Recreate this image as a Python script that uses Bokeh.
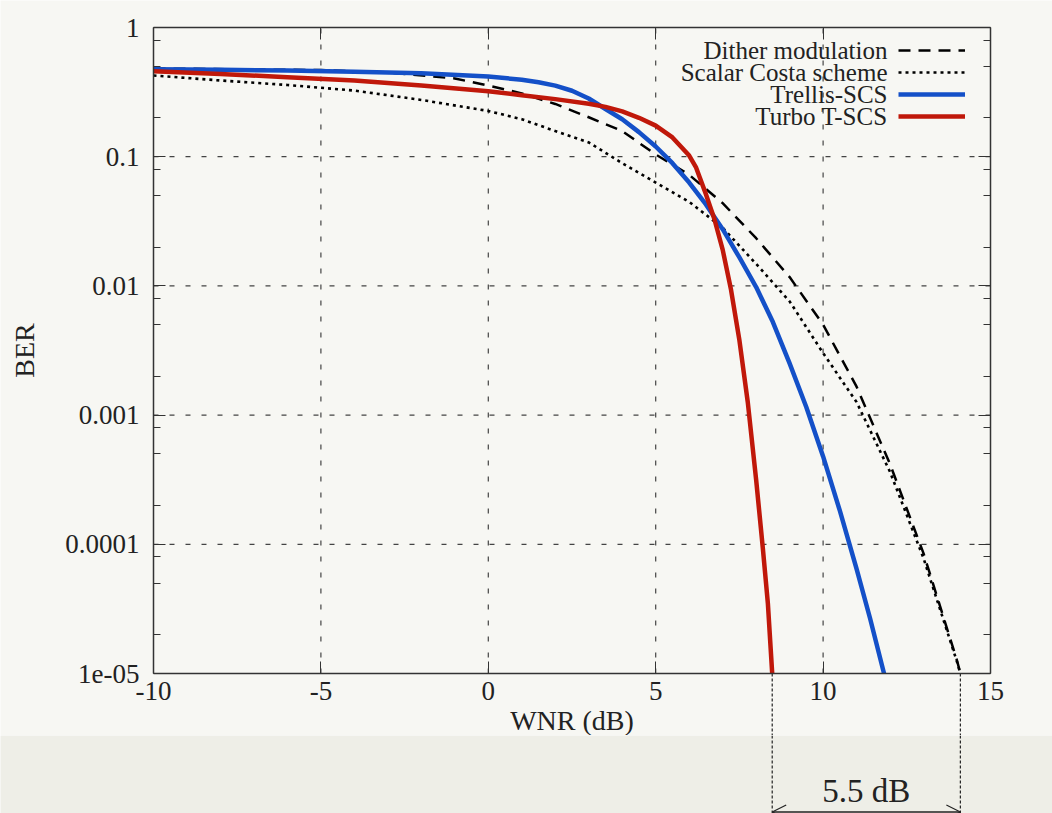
import math
from bokeh.plotting import figure
from bokeh.layouts import column
from bokeh.models import (Range1d, FixedTicker, LogAxis, LinearAxis, CustomJSTickFormatter,
                          Legend, LegendItem, Label, Arrow, OpenHead)
from bokeh.embed import file_html
from bokeh.resources import INLINE

# ---------------- data ----------------
x_ticks = [-10, -5, 0, 5, 10, 15]
y_ticks = [1e-5, 1e-4, 1e-3, 1e-2, 1e-1, 1]
y_tick_labels = ["1", "0.1", "0.01", "0.001", "0.0001", "1e-05"]
y_minor = [m * 10.0 ** e for e in range(-5, 0) for m in (2, 5, 8)]

dither_wnr = [-10, -7, -5, -3, -1, 0, 1, 2, 3, 4, 5, 6, 7, 8, 9, 10, 11, 12, 13, 14, 14.1]
dither_ber = [0.482, 0.473, 0.468, 0.449, 0.403, 0.356, 0.309, 0.256, 0.202, 0.158, 0.104,
              0.0724, 0.0437, 0.0234, 0.0117, 0.00501, 0.00166, 0.000417, 8.5e-5, 1.26e-5, 1.0e-5]

scs_wnr = [-10, -8, -6, -4, -2, 0, 1, 2, 3, 4, 5, 6, 7, 8, 9, 10, 11, 12, 13, 14, 14.1]
scs_ber = [0.425, 0.389, 0.359, 0.325, 0.275, 0.226, 0.195, 0.158, 0.129, 0.0891, 0.0631,
           0.0447, 0.0282, 0.0148, 0.00759, 0.00302, 0.00126, 0.000363, 7.8e-5, 1.23e-5, 1.0e-5]

trellis_wnr = [-10, -8, -6, -4, -2, 0, 1, 1.5, 2, 2.5, 3, 3.5, 4, 4.5, 5, 5.5, 6, 6.5, 7, 7.5,
               8, 8.5, 9, 9.5, 10, 10.5, 11, 11.4, 11.82]
trellis_ber = [0.476, 0.470, 0.465, 0.455, 0.442, 0.418, 0.394, 0.377, 0.355, 0.324, 0.282,
               0.234, 0.195, 0.155, 0.120, 0.0891, 0.0631, 0.0427, 0.0275, 0.0166,
               0.0098, 0.00525, 0.00251, 0.00115, 0.000479, 0.000182, 6.46e-5, 2.69e-5, 1.0e-5]

turbo_wnr = [-10, -8, -6, -4, -2, 0, 1, 2, 3, 3.5, 4, 4.5, 5, 5.5, 6, 6.2, 6.5, 6.75, 7, 7.25,
             7.5, 7.75, 8, 8.2, 8.35, 8.48]
turbo_ber = [0.459, 0.437, 0.412, 0.389, 0.355, 0.321, 0.299, 0.279, 0.257, 0.243, 0.224, 0.200,
             0.174, 0.141, 0.102, 0.0832, 0.0513, 0.0331, 0.0191, 0.00933, 0.00380, 0.00126,
             0.000316, 9.33e-5, 3.5e-5, 1.0e-5]

series_names = ["Dither modulation", "Scalar Costa scheme", "Trellis-SCS", "Turbo T-SCS"]
x_title = "WNR (dB)"
y_title = "BER"
gain_text = "5.5 dB"

# ---------------- styling / layout ----------------
FONT = "Liberation Serif"
BG = "#f7f7f3"
BAND = "#eeeee7"
AX = "#333333"
GRID = "#444444"
TXT = "#222222"
BLUE = "#1450c8"
RED = "#c0180a"

W = 1052
H_TOP, H_BOT = 735, 78
BOX_L, BOX_R, BOX_T, BOX_B = 153, 990, 27, 673     # canvas pixels of the plotting box

px_per_db = (BOX_R - BOX_L) / (x_ticks[-1] - x_ticks[0])
px_per_dec = (BOX_B - BOX_T) / (math.log10(y_ticks[-1]) - math.log10(y_ticks[0]))
x_lo = x_ticks[0] - BOX_L / px_per_db
x_hi = x_ticks[-1] + (W - BOX_R) / px_per_db
y_lo = 10 ** (math.log10(y_ticks[0]) - (H_TOP - BOX_B) / px_per_dec)
y_hi = 10 ** (math.log10(y_ticks[-1]) + BOX_T / px_per_dec)
xb = (x_ticks[0], x_ticks[-1])
yb = (y_ticks[0], y_ticks[-1])

p = figure(width=W, height=H_TOP, output_backend="svg", toolbar_location=None,
           y_axis_type="log", x_range=Range1d(x_lo, x_hi), y_range=Range1d(y_lo, y_hi),
           min_border_left=0, min_border_right=0, min_border_top=0, min_border_bottom=0,
           background_fill_color=BG, border_fill_color=BG, outline_line_color=None)
p.grid.visible = False

xt = FixedTicker(ticks=x_ticks)
yt = FixedTicker(ticks=y_ticks, minor_ticks=y_minor)
xfmt = CustomJSTickFormatter(code="return tick.toString();")
yfmt = CustomJSTickFormatter(args=dict(labels=y_tick_labels),
                             code="const e = Math.round(-Math.log10(tick)); return labels[e];")
empty_fmt = CustomJSTickFormatter(code="return '';")

xa = p.xaxis[0]
xa.update(ticker=xt, formatter=xfmt, axis_label=x_title, fixed_location=y_ticks[0], bounds=xb)
ya = p.yaxis[0]
ya.update(ticker=yt, formatter=yfmt, axis_label=y_title, fixed_location=x_ticks[0], bounds=yb)

tick_style = dict(axis_line_color=AX, axis_line_width=1.5, major_tick_in=12, major_tick_out=0,
                  minor_tick_in=7, minor_tick_out=0, major_tick_line_color=AX,
                  minor_tick_line_color=AX)
for ax in (xa, ya):
    ax.update(**tick_style)
    ax.update(major_label_text_font=FONT, major_label_text_font_size="27px",
              major_label_text_color=TXT, axis_label_text_font=FONT,
              axis_label_text_font_size="28px", axis_label_text_font_style="normal",
              axis_label_text_color=TXT)
xa.major_label_standoff = 8
xa.axis_label_standoff = 2
ya.major_label_standoff = 14
ya.axis_label_standoff = 22

top_axis = LinearAxis(ticker=xt, formatter=empty_fmt, fixed_location=y_ticks[-1], bounds=xb,
                      major_label_text_font_size="1px", **tick_style)
right_axis = LogAxis(ticker=yt, formatter=empty_fmt, fixed_location=x_ticks[-1], bounds=yb,
                     major_label_text_font_size="1px", **tick_style)
p.add_layout(top_axis, "above")
p.add_layout(right_axis, "right")

# grid lines, limited to the plotting box
inner_x = x_ticks[1:-1]
inner_y = y_ticks[1:-1]
p.segment(x0=inner_x, y0=[yb[0]] * len(inner_x), x1=inner_x, y1=[yb[1]] * len(inner_x),
          line_color=GRID, line_width=1.2, line_dash="5 11")
p.segment(x0=[xb[0]] * len(inner_y), y0=inner_y, x1=[xb[1]] * len(inner_y), y1=inner_y,
          line_color=GRID, line_width=1.2, line_dash="5 11")

# curves
r_d = p.line(dither_wnr, dither_ber, line_color="black", line_width=2.5, line_dash="12 8")
r_s = p.line(scs_wnr, scs_ber, line_color="black", line_width=2.6, line_dash="3 4")
r_t = p.line(trellis_wnr, trellis_ber, line_color=BLUE, line_width=4.5, line_join="round")
r_r = p.line(turbo_wnr, turbo_ber, line_color=RED, line_width=4.5, line_join="round")
renderers = [r_d, r_s, r_t, r_r]

# legend: glyphs from Bokeh's legend, texts right-aligned to their left (gnuplot style)
n = len(series_names)
row_h, row_gap = 20, 2
legend_h = n * row_h + (n - 1) * row_gap
legend_top_px = 40
legend = Legend(items=[LegendItem(label=" ", renderers=[r]) for r in renderers],
                location=(898, H_TOP - legend_top_px - legend_h), glyph_width=67,
                glyph_height=row_h, label_height=row_h, label_width=0, label_standoff=0,
                spacing=row_gap, padding=0, margin=0, border_line_color=None,
                background_fill_alpha=0, label_text_font_size="4px")
p.add_layout(legend)

for i, name in enumerate(series_names):
    cy = legend_top_px + row_h / 2 + i * (row_h + row_gap)
    p.add_layout(Label(x=887, y=H_TOP - cy, x_units="screen", y_units="screen", text=name,
                       text_align="right", text_baseline="middle", text_font=FONT,
                       text_font_size="25px", text_color=TXT))

# bottom annotation: gap between Turbo T-SCS and SCS at BER = 1e-5
x_left = turbo_wnr[-1]
x_right = scs_wnr[-1]
p.segment(x0=[x_left, x_right], y0=[y_ticks[0]] * 2, x1=[x_left, x_right], y1=[y_lo] * 2,
          line_color=TXT, line_width=1.2, line_dash="3 2")

p2 = figure(width=W, height=H_BOT, output_backend="svg", toolbar_location=None,
            x_range=p.x_range, y_range=Range1d(0, H_BOT), x_axis_type=None, y_axis_type=None,
            min_border_left=0, min_border_right=0, min_border_top=0, min_border_bottom=0,
            background_fill_color=BAND, border_fill_color=BAND, outline_line_color=None)
p2.grid.visible = False
p2.segment(x0=[x_left, x_right], y0=[0, 0], x1=[x_left, x_right], y1=[H_BOT, H_BOT],
           line_color=TXT, line_width=1.2, line_dash="3 2")
p2.add_layout(Arrow(x_start=x_left, x_end=x_right, y_start=1.5, y_end=1.5,
                    start=OpenHead(size=14, line_width=1.2, line_color=TXT),
                    end=OpenHead(size=14, line_width=1.2, line_color=TXT),
                    line_color=TXT, line_width=1.5))
p2.add_layout(Label(x=(x_left + x_right) / 2, y=23, text=gain_text, text_align="center",
                    text_baseline="middle", text_font=FONT, text_font_size="33px",
                    text_color=TXT))

layout = column(p, p2, spacing=0)
open("out.html", "w").write(file_html(layout, INLINE))
